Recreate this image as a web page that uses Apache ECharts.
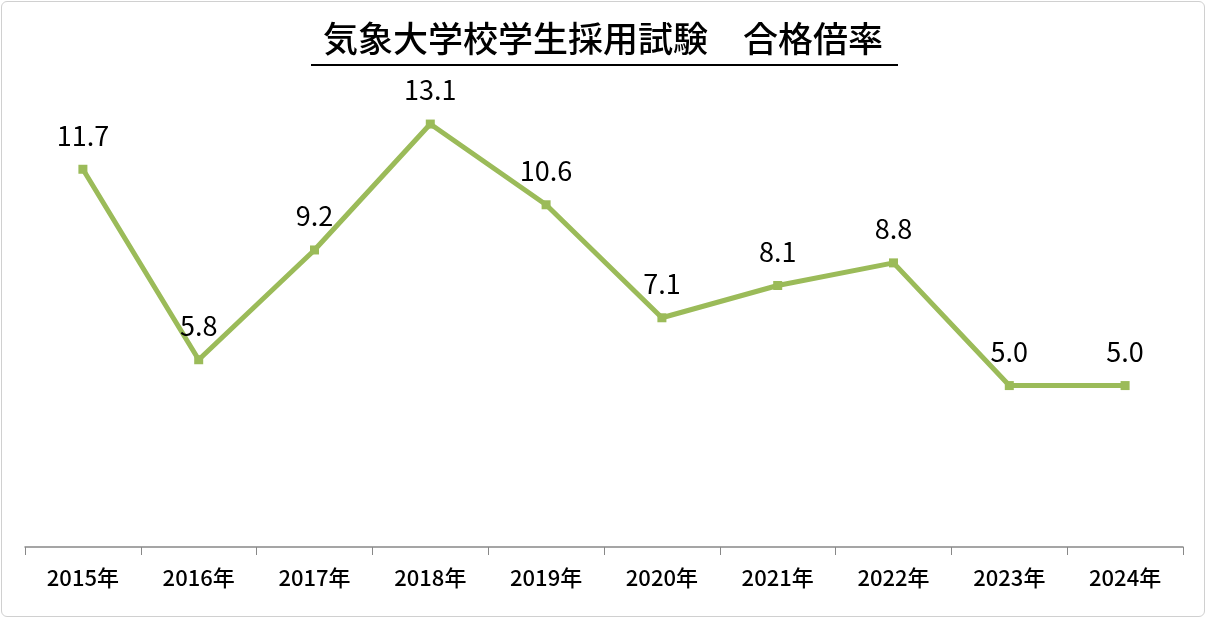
<!DOCTYPE html>
<html lang="ja">
<head>
<meta charset="UTF-8">
<title></title>
<style>
  html, body { margin: 0; padding: 0; width: 100%; height: 100%; background: #fff; }
  #main { position: absolute; left: 1px; top: 1px; width: 1202px; height: 614px; border: 1px solid #d0d0d0; border-radius: 6px; }
</style>
</head>
<body>
<div id="main"></div>
<script src="https://cdn.jsdelivr.net/npm/echarts@6/dist/echarts.min.js"></script>
<script>
var years = ['2015年', '2016年', '2017年', '2018年', '2019年', '2020年', '2021年', '2022年', '2023年', '2024年'];
var ratio = [11.7, 5.8, 9.2, 13.1, 10.6, 7.1, 8.1, 8.8, 5.0, 5.0];

var myChart = echarts.init(document.getElementById('main'));
var font = '"Noto Sans CJK JP", "Noto Sans", sans-serif';
var option = {
    animation: false,
    title: {
        text: '気象大学校学生採用試験　合格倍率',
        left: 'center',
        top: 14,
        textStyle: { fontSize: 35, fontWeight: 500, color: '#000', fontFamily: font }
    },
    graphic: [{
        type: 'line',
        shape: { x1: 309, y1: 63, x2: 896, y2: 63 },
        style: { stroke: '#000', lineWidth: 2 }
    }],
    grid: { left: 23, right: 21, top: 93, bottom: 69 },
    xAxis: {
        type: 'category',
        data: years,
        axisLine: { lineStyle: { color: '#888', width: 1.5 } },
        axisTick: { show: true, length: 8, lineStyle: { color: '#888' } },
        axisLabel: { color: '#000', fontSize: 22, fontWeight: 500, margin: 20, fontFamily: font }
    },
    yAxis: {
        type: 'value',
        min: 0,
        max: 14,
        show: false,
        splitLine: { show: false }
    },
    series: [{
        type: 'line',
        data: ratio,
        symbol: 'rect',
        symbolSize: 9,
        lineStyle: { color: '#9bbb59', width: 5 },
        itemStyle: { color: '#9bbb59' },
        label: {
            show: true,
            position: 'top',
            distance: 16,
            fontSize: 27,
            color: '#000',
            fontFamily: font,
            formatter: function (p) { return p.value.toFixed(1); }
        }
    }]
};
myChart.setOption(option);
window.addEventListener('resize', function () { myChart.resize(); });
</script>
</body>
</html>
